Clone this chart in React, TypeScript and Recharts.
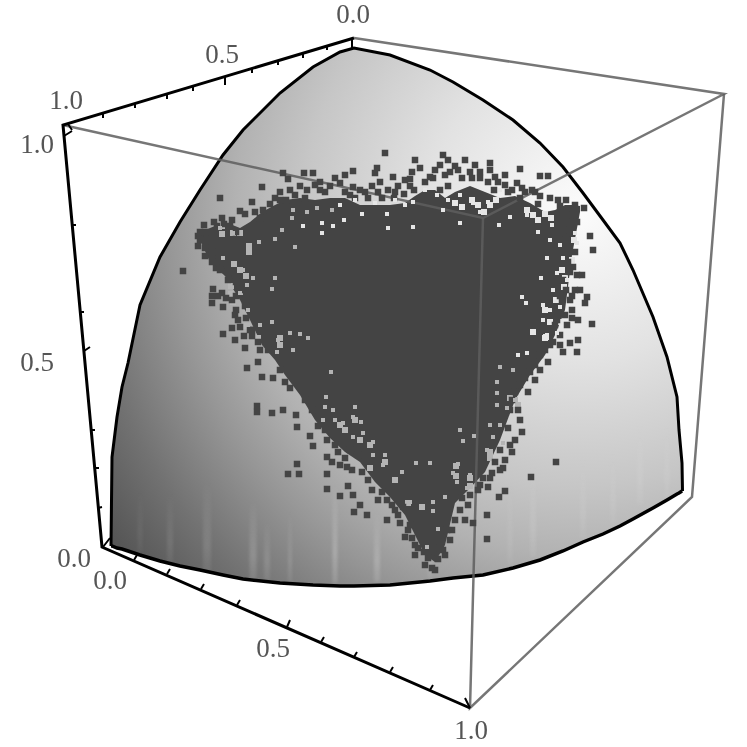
import { ComposedChart, XAxis, YAxis, Area, Line, Scatter } from "recharts";

// everything in image pixels, the axes just run 0..747
const domeX = [111, 112, 117, 122, 128, 140, 160, 180, 200, 223, 243, 280, 313, 340, 354, 390, 430, 453, 483, 513, 540, 563, 583, 603, 620, 633, 653, 667, 677, 679, 682, 682.5];
const domeTop = [546, 457, 417, 387, 363, 305, 257, 222, 190, 155, 130, 93, 67, 52, 48, 55, 70, 82, 100, 120, 143, 167, 193, 220, 243, 270, 317, 357, 397, 430, 463, 491];
const domeBottom = [546, 546, 548, 549, 551, 555, 561, 566, 570, 575, 579, 583, 585, 586, 586, 585, 581, 578, 575, 568, 560, 551, 542, 534, 526, 519, 508, 500, 494, 493, 491, 491];

const coreX = [200, 210, 225, 240, 250, 262, 275, 285, 300, 315, 330, 345, 360, 375, 390, 405, 415, 425, 435, 445, 455, 470, 485, 500, 515, 530, 545, 555, 565, 572, 580];
const coreTop = [232, 228, 222, 228, 222, 212, 205, 200, 198, 200, 198, 198, 205, 205, 205, 203, 196, 190, 190, 198, 192, 186, 192, 198, 196, 203, 212, 210, 205, 205, 206];
const coreBottom = [240, 262, 276, 300, 320, 345, 360, 375, 395, 420, 438, 452, 462, 482, 497, 515, 535, 555, 562, 545, 503, 488, 472, 440, 400, 375, 355, 335, 310, 255, 212];

const outliers = [
  [415, 160], [443, 155], [448, 160], [475, 165], [490, 163], [450, 172], [430, 177], [410, 179], [520, 169], [540, 176], [548, 176], [495, 177], [498, 182], [517, 183], [470, 172],
  [590, 236], [593, 250], [592, 324], [578, 340], [563, 352], [577, 352], [587, 297], [585, 303], [577, 275], [582, 275], [573, 267], [578, 320], [567, 325], [570, 343], [540, 355],
  [531, 477], [556, 462], [505, 491], [499, 497], [488, 487], [487, 515], [487, 539], [503, 468], [492, 473],
  [247, 368], [258, 362], [262, 377], [273, 378], [285, 382], [257, 406], [257, 412], [272, 413], [283, 410], [296, 415], [297, 427], [310, 436], [313, 446], [327, 457], [297, 464], [288, 474], [299, 474], [327, 474], [327, 489], [340, 496], [348, 486], [353, 495], [360, 505], [367, 515], [354, 512], [387, 520], [400, 523], [405, 537], [452, 530], [465, 520], [473, 523], [428, 558], [438, 559], [425, 565], [378, 500], [387, 500], [403, 507], [340, 465], [347, 467], [327, 440],
  [385, 153], [353, 171], [377, 168], [375, 173], [393, 177], [304, 173], [313, 173], [283, 173], [288, 179], [262, 187], [252, 202], [220, 198], [240, 211], [263, 210], [260, 218], [183, 271], [213, 289], [222, 293], [212, 303], [223, 307], [223, 334], [235, 340], [245, 348], [260, 350], [252, 330], [240, 327], [235, 315],
  [295, 195], [320, 190], [340, 183], [353, 187], [307, 190], [365, 192], [378, 192], [380, 182], [330, 186], [345, 192], [372, 186], [388, 190], [398, 186], [286, 200], [275, 198], [300, 186],
  [204, 225], [214, 222], [222, 218], [232, 220], [245, 214], [255, 212], [270, 204], [280, 192], [198, 236], [198, 246], [205, 256], [216, 268], [228, 280], [236, 296], [250, 330], [268, 350], [280, 370], [290, 388],
  [435, 170], [455, 166], [465, 160], [480, 172], [505, 185], [525, 192], [535, 192], [558, 200], [566, 200], [575, 205], [584, 208],
  [575, 290], [570, 300], [562, 300], [572, 310], [555, 325], [550, 345], [535, 365], [525, 378], [515, 392], [510, 410], [520, 420], [508, 428], [500, 450], [510, 445], [495, 462], [480, 485], [470, 495], [460, 510], [445, 555], [435, 570], [415, 545], [408, 530], [395, 510],
  // rough edge of the cloud
  [200, 240], [205, 248], [212, 252], [205, 232], [200, 232], [217, 226], [224, 224], [230, 226], [236, 232], [212, 262], [220, 270], [228, 272], [236, 282], [240, 290], [232, 300], [226, 298], [218, 296], [212, 296], [246, 300], [245, 306], [236, 310], [238, 320], [246, 318], [252, 336], [244, 336], [258, 342], [232, 328],
  [573, 215], [577, 222], [570, 230], [566, 240], [575, 252], [568, 262], [570, 272], [563, 280], [566, 290], [572, 296], [560, 296], [580, 290], [565, 315], [572, 318], [557, 320], [560, 335], [553, 342], [560, 345], [545, 350], [548, 362], [540, 370], [530, 372], [535, 380], [520, 385], [528, 392], [512, 400], [518, 410], [522, 432], [515, 440], [512, 452], [505, 460], [500, 470], [490, 478], [483, 478], [478, 490], [468, 505], [462, 498], [455, 520], [447, 530], [450, 540], [443, 550],
  [305, 400], [312, 410], [318, 426], [325, 430], [335, 445], [345, 458], [352, 470], [362, 472], [368, 480], [372, 490], [382, 492], [392, 505], [398, 515], [410, 525], [412, 538], [418, 548], [415, 555], [424, 552], [432, 568], [440, 548], [350, 450], [358, 455], [338, 452], [332, 462],
  [280, 200], [290, 190], [305, 198], [320, 182], [335, 178], [345, 175], [405, 180], [412, 172], [420, 168], [440, 165], [458, 170], [462, 178], [480, 178], [490, 170], [505, 175], [512, 190], [522, 188], [532, 190], [540, 196], [550, 198],
  [425, 182], [433, 178], [445, 175], [472, 178], [488, 182], [360, 190], [395, 192], [410, 186], [350, 195], [325, 192], [315, 185],
  [355, 198], [368, 198], [382, 198], [394, 198], [404, 194], [414, 190], [440, 190], [448, 186], [494, 190], [508, 192], [520, 198], [538, 204], [560, 206],
];

const holesTop = [
  [413, 227], [460, 223], [499, 225], [510, 217], [527, 215], [538, 232], [552, 225], [550, 240], [560, 245], [575, 233], [577, 243], [547, 258], [563, 258], [541, 278], [557, 273], [567, 280], [522, 297], [526, 303], [553, 290], [543, 305], [550, 310], [560, 307], [543, 320], [533, 333], [547, 335], [557, 333], [518, 355], [527, 353],
  [480, 212], [473, 203], [488, 202], [460, 195], [448, 200], [413, 202], [500, 190], [443, 210], [322, 223], [333, 226], [344, 220], [303, 226], [362, 214], [387, 214], [388, 228], [322, 233], [340, 205], [355, 200], [375, 203], [395, 200], [405, 205], [425, 190], [437, 195],
];

const holesLow = [
  [295, 247], [275, 239], [293, 210], [307, 212], [317, 208], [332, 210], [292, 218], [282, 230], [259, 242], [248, 247], [223, 258], [233, 233], [220, 228], [240, 293], [247, 285], [243, 270], [253, 278], [248, 310], [248, 325], [260, 325], [277, 352], [293, 350], [275, 278], [272, 289], [272, 322], [308, 338], [290, 333], [300, 334], [278, 340],
  [331, 372], [326, 397], [355, 407], [325, 407], [333, 410], [353, 417], [361, 422], [323, 420], [335, 420], [343, 423], [363, 433], [353, 437], [373, 442], [373, 455], [385, 455], [383, 465], [402, 472], [416, 463], [430, 463], [460, 430], [463, 441], [474, 436], [458, 464], [453, 473], [457, 482], [470, 475], [467, 488], [445, 497], [433, 502], [410, 502], [422, 507], [433, 511], [438, 529], [427, 547], [490, 425], [500, 425], [493, 437], [500, 367], [497, 382], [497, 393], [497, 405], [507, 408], [513, 370], [487, 450], [503, 443], [515, 400],
];

// bigger gaps along the edge of the cloud
const bitesTop = [[562, 270], [565, 278], [564, 287], [556, 300], [545, 310], [533, 332], [546, 337], [574, 240], [572, 260], [550, 322], [545, 338], [560, 322], [527, 210], [533, 215], [538, 220], [545, 214], [551, 218], [478, 205], [484, 212], [490, 205], [472, 200], [496, 200], [455, 203], [462, 207]];
const bitesLow = [[222, 226], [222, 234], [233, 233], [240, 233], [249, 246], [249, 252], [234, 264], [240, 270], [246, 276], [231, 286], [231, 294], [233, 302], [240, 292], [245, 326], [252, 334], [258, 338], [280, 338], [280, 345], [515, 400], [510, 398], [518, 405], [490, 452], [490, 458], [456, 466], [456, 476], [470, 478], [470, 486], [408, 503], [422, 507], [355, 420], [345, 430], [360, 440], [340, 425], [370, 445], [385, 462], [395, 480], [370, 468]];

// box edges
const blackEdge = [[354, 38], [63, 125], [102, 547], [470, 708]];
const grayBack = [[63, 125], [483, 218], [724, 94], [354, 38]];
const grayFront = [[483, 218], [470, 708], [692, 497], [724, 94]];

const ticks = [
  [352, 38, 352, 48], [327, 45, 327, 50], [303, 53, 303, 58], [278, 60, 278, 65], [252, 68, 252, 73], [225, 76, 225, 85], [193, 86, 193, 91], [167, 94, 167, 99], [135, 103, 135, 108], [103, 113, 103, 118], [68, 124, 72, 130],
  [64, 136, 72, 131], [72, 225, 76, 225], [80, 312, 84, 312], [84, 351, 90, 347], [91, 430, 95, 430], [95, 468, 99, 468], [98, 508, 102, 507], [103, 547, 110, 538], [134, 560, 137, 555], [167, 574, 170, 569], [201, 589, 204, 584], [237, 605, 240, 600], [287, 627, 290, 620], [321, 642, 324, 637], [354, 657, 357, 652], [390, 672, 393, 667], [430, 690, 433, 685], [470, 708, 465, 698],
];

const streakX = [140, 170, 207, 253, 267, 290, 335, 377, 430, 510, 533, 583, 613, 640, 667];
const streakWidth = [5, 6, 8, 7, 6, 4, 5, 6, 5, 5, 6, 6, 5, 6, 5];
const streakRise = [60, 70, 90, 80, 60, 70, 100, 70, 70, 80, 90, 80, 70, 80, 70];
const streakAlpha = [0.06, 0.09, 0.11, 0.16, 0.12, 0.12, 0.22, 0.18, 0.1, 0.08, 0.1, 0.08, 0.08, 0.08, 0.08];

const tickText = ["0.0", "0.5", "1.0", "1.0", "0.5", "0.0", "0.0", "0.5", "1.0"];
const tickTextX = [353, 222, 66, 37, 37, 74, 110, 273, 471];
const tickTextY = [14, 54, 100, 144, 362, 558, 580, 648, 730];

const dome = domeX.map((x, i) => ({ x, top: domeTop[i], bottom: domeBottom[i], band: [domeTop[i], domeBottom[i]] }));
const core = coreX.map((x, i) => ({ x, band: [coreTop[i], coreBottom[i]] }));
const toPoints = (list: number[][]) => list.map(([x, y]) => ({ x, y }));

// one path with gaps, so all ticks fit in a single Line
const tickPath = ticks.flatMap(([x1, y1, x2, y2]) => [
  { x: x1, y: y1 },
  { x: x2, y: y2 },
  { x: x2, y: null },
]);

function bottomAt(x: number) {
  const i = domeX.findIndex((v) => v >= x);
  return domeBottom[i];
}

const streaks = streakX.map((x, i) => {
  const low = bottomAt(x) - 3;
  const band = [low - streakRise[i], low];
  return {
    alpha: streakAlpha[i],
    data: [
      { x: x - streakWidth[i] / 2, band },
      { x: x + streakWidth[i] / 2, band },
    ],
  };
});

const labels = tickText.map((text, i) => ({ x: tickTextX[i], y: tickTextY[i], text }));

function square(size: number, color: string) {
  return (props: any) => (
    <rect x={props.cx - size / 2} y={props.cy - size / 2} width={size} height={size} fill={color} />
  );
}

function tickLabel(props: any) {
  return (
    <text
      x={props.cx}
      y={props.cy}
      textAnchor="middle"
      dominantBaseline="central"
      fontFamily="Liberation Serif"
      fontSize={27}
      fill="#555555"
      style={{ filter: "blur(0.6px)" }}
    >
      {props.payload.text}
    </text>
  );
}

export default function App() {
  return (
    <div style={{ position: "absolute", left: 0, top: 0, width: 747, height: 747, background: "#fff" }}>
      <ComposedChart width={747} height={747} margin={{ top: 0, right: 0, bottom: 0, left: 0 }}>
        <defs>
          <radialGradient id="domeShade" gradientUnits="userSpaceOnUse" cx={580} cy={210} r={690}>
            <stop offset="0%" stopColor="#fcfcfc" />
            <stop offset="22%" stopColor="#e2e2e2" />
            <stop offset="40%" stopColor="#c6c6c6" />
            <stop offset="50%" stopColor="#b2b2b2" />
            <stop offset="60%" stopColor="#969696" />
            <stop offset="72%" stopColor="#727272" />
            <stop offset="83%" stopColor="#555555" />
            <stop offset="100%" stopColor="#4a4a4a" />
          </radialGradient>
          <linearGradient id="streakFade" x1="0" y1="0" x2="0" y2="1">
            <stop offset="0%" stopColor="#fff" stopOpacity={0} />
            <stop offset="70%" stopColor="#fff" stopOpacity={1} />
            <stop offset="100%" stopColor="#fff" stopOpacity={0.6} />
          </linearGradient>
        </defs>
        <XAxis hide type="number" dataKey="x" domain={[0, 747]} allowDataOverflow />
        <YAxis hide type="number" reversed domain={[0, 747]} allowDataOverflow />

        <Area data={dome} dataKey="band" type="linear" stroke="none" fill="url(#domeShade)" fillOpacity={1} isAnimationActive={false} />
        {streaks.map((s, i) => (
          <Area key={i} data={s.data} dataKey="band" type="linear" stroke="none" fill="url(#streakFade)" fillOpacity={s.alpha} style={{ filter: "blur(1.5px)" }} isAnimationActive={false} />
        ))}

        <Line data={dome} dataKey="top" type="linear" stroke="#000" strokeWidth={3} dot={false} isAnimationActive={false} />
        <Line data={dome} dataKey="bottom" type="linear" stroke="#000" strokeWidth={3.5} dot={false} isAnimationActive={false} />

        <Area data={core} dataKey="band" type="linear" stroke="none" fill="#444444" fillOpacity={1} isAnimationActive={false} />
        <Scatter data={toPoints(bitesTop)} dataKey="y" shape={square(6, "#e6e6e6")} isAnimationActive={false} />
        <Scatter data={toPoints(bitesLow)} dataKey="y" shape={square(6, "#b4b4b4")} isAnimationActive={false} />
        <Scatter data={toPoints(outliers)} dataKey="y" shape={square(6.5, "#444444")} isAnimationActive={false} />
        <Scatter data={toPoints(holesTop)} dataKey="y" shape={square(4, "#e6e6e6")} isAnimationActive={false} />
        <Scatter data={toPoints(holesLow)} dataKey="y" shape={square(4, "#b4b4b4")} isAnimationActive={false} />

        <Line data={toPoints(grayBack)} dataKey="y" type="linear" stroke="#5e5e5e" strokeOpacity={0.85} strokeWidth={2.5} dot={false} isAnimationActive={false} />
        <Line data={toPoints(grayFront)} dataKey="y" type="linear" stroke="#5e5e5e" strokeOpacity={0.85} strokeWidth={2.5} dot={false} isAnimationActive={false} />
        <Line data={toPoints(blackEdge)} dataKey="y" type="linear" stroke="#000" strokeWidth={3} dot={false} isAnimationActive={false} />
        <Line data={tickPath} dataKey="y" type="linear" stroke="#000" strokeWidth={2} dot={false} connectNulls={false} isAnimationActive={false} />

        <Scatter data={labels} dataKey="y" shape={tickLabel} isAnimationActive={false} />
      </ComposedChart>
    </div>
  );
}
